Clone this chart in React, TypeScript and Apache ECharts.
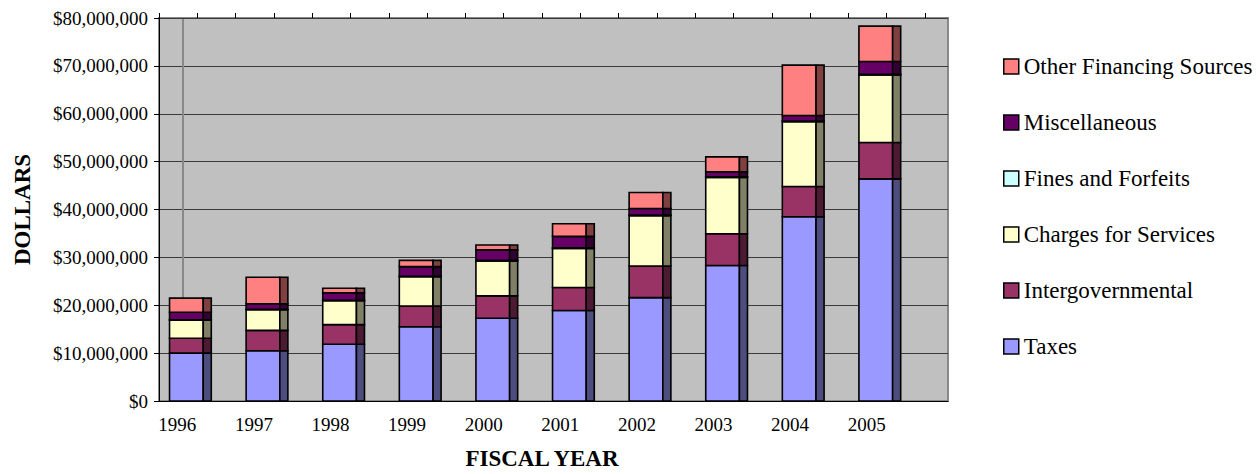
import React, { useEffect, useRef } from "react";
import * as echarts from "echarts";

const years = ["1996", "1997", "1998", "1999", "2000", "2001", "2002", "2003", "2004", "2005"];
const taxes = [10.0, 10.5, 11.85, 15.5, 17.3, 18.9, 21.6, 28.3, 38.5, 46.4];
const intergovernmental = [3.1, 4.25, 4.1, 4.35, 4.65, 4.8, 6.6, 6.65, 6.3, 7.6];
const chargesForServices = [3.8, 4.3, 5.0, 6.1, 7.3, 8.15, 10.5, 11.75, 13.55, 14.1];
const finesAndForfeits = [0.08, 0.1, 0.1, 0.12, 0.12, 0.13, 0.15, 0.15, 0.15, 0.15];
const miscellaneous = [1.55, 1.15, 1.55, 2.0, 2.2, 2.4, 1.35, 1.05, 1.15, 2.65];
const otherFinancing = [2.95, 5.55, 0.95, 1.3, 1.0, 2.65, 3.35, 3.1, 10.5, 7.4];
const yTicks = [0, 10, 20, 30, 40, 50, 60, 70, 80];

const seriesDefs = [
  { name: "Taxes", values: taxes, color: "#9999ff", side: "#4d4d80" },
  { name: "Intergovernmental", values: intergovernmental, color: "#993366", side: "#4d1a33" },
  { name: "Charges for Services", values: chargesForServices, color: "#ffffcc", side: "#808066" },
  { name: "Fines and Forfeits", values: finesAndForfeits, color: "#ccffff", side: "#668080" },
  { name: "Miscellaneous", values: miscellaneous, color: "#660066", side: "#330033" },
  { name: "Other Financing Sources", values: otherFinancing, color: "#ff8080", side: "#804040" },
];

const FONT = "Liberation Serif";
const M = 1000000;

function fmtDollar(v: number) {
  return "$" + Math.round(v).toLocaleString("en-US");
}

export default function App() {
  const ref = useRef<HTMLDivElement>(null);
  useEffect(() => {
    if (!ref.current) return;
    const chart = echarts.init(ref.current, null, { renderer: "svg" });
    const cum = years.map(() => 0);
    const series: any[] = seriesDefs.map((s) => {
      const data = s.values.map((v, i) => {
        const lo = cum[i];
        const hi = lo + v * M;
        cum[i] = hi;
        return [i, lo, hi];
      });
      return {
        type: "custom",
        name: s.name,
        xAxisIndex: 1,
        yAxisIndex: 1,
        itemStyle: { color: s.color, borderColor: "#000", borderWidth: 1.5 },
        encode: { x: 0, y: [1, 2] },
        data,
        renderItem: (params: any, api: any) => {
          const cat = api.value(0);
          const lo = api.value(1);
          const hi = api.value(2);
          const p0 = api.coord([cat, lo]);
          const p1 = api.coord([cat, hi]);
          const w = api.size([1, 0])[0];
          const front = w * 0.44;
          const side = w * 0.105;
          const x0 = p0[0] - w * 0.09 - (front + side) / 2;
          const h = p0[1] - p1[1];
          return {
            type: "group",
            children: [
              {
                type: "rect",
                shape: { x: x0, y: p1[1], width: front, height: h },
                style: { fill: s.color, stroke: "#000", lineWidth: 1.6 },
              },
              {
                type: "rect",
                shape: { x: x0 + front, y: p1[1], width: side, height: h },
                style: { fill: s.side, stroke: "#000", lineWidth: 1.6 },
              },
            ],
          };
        },
      };
    });

    const option: any = {
      animation: false,
      textStyle: { fontFamily: FONT },
      grid: [
        {
          left: 159, top: 18, width: 789, height: 383, outerBoundsMode: "none",
          show: true, backgroundColor: "#c0c0c0", borderColor: "#888888", borderWidth: 2,
        },
        { left: 159, top: 18, width: 766, height: 383, show: false, outerBoundsMode: "none" },
      ],
      xAxis: [
        {
          gridIndex: 0, type: "value", min: 0, max: 1,
          axisLine: { show: true, lineStyle: { color: "#000", width: 1 } },
          axisTick: { show: false }, axisLabel: { show: false }, splitLine: { show: false },
        },
        {
          gridIndex: 1, type: "category", data: years,
          axisLine: { show: false }, axisTick: { show: false },
          axisLabel: {
            fontFamily: FONT, fontSize: 19, color: "#000", margin: 14,
            padding: [0, 40, 0, 0], interval: 0,
          },
          name: "FISCAL YEAR", nameLocation: "middle", nameGap: 46,
          nameTextStyle: { fontFamily: FONT, fontSize: 23, fontWeight: "bold", color: "#000" },
        },
        {
          gridIndex: 1, type: "category", data: years.flatMap((y) => [y + "a", y + "b"]),
          axisLine: { show: false },
          axisTick: { show: true, interval: 0, length: 5, lineStyle: { color: "#000" } },
          axisLabel: { show: false },
        },
      ],
      yAxis: [
        {
          gridIndex: 0, type: "value", min: 0, max: 80 * M, interval: 10 * M,
          axisLine: { show: true, lineStyle: { color: "#000", width: 1 } },
          axisTick: { show: true, length: 5, lineStyle: { color: "#000" } },
          axisLabel: {
            fontFamily: FONT, fontSize: 19, color: "#000", margin: 11,
            formatter: (v: number) => (yTicks.includes(v / M) ? fmtDollar(v) : ""),
          },
          splitLine: { show: true, lineStyle: { color: "#3a3a3a", width: 1 } },
          name: "DOLLARS", nameLocation: "middle", nameGap: 125, nameRotate: 90,
          nameTextStyle: { fontFamily: FONT, fontSize: 23, fontWeight: "bold", color: "#000" },
        },
        {
          gridIndex: 1, type: "value", min: 0, max: 80 * M, show: false,
          splitLine: { show: false },
        },
      ],
      legend: {
        orient: "vertical",
        left: 998,
        top: 50,
        itemWidth: 15,
        itemHeight: 15,
        itemGap: 33,
        icon: "rect",
        itemStyle: { borderColor: "#000", borderWidth: 1.5 },
        textStyle: { fontFamily: FONT, fontSize: 23, color: "#000", lineHeight: 22 },
        data: seriesDefs.map((s) => s.name).reverse(),
      },
      graphic: [
        {
          type: "line",
          shape: { x1: 183, y1: 19, x2: 183, y2: 400 },
          style: { stroke: "#888888", lineWidth: 2 },
          z: 1,
        },
      ],
      series,
    };
    chart.setOption(option);
    return () => chart.dispose();
  }, []);
  return (
    <div
      ref={ref}
      style={{ position: "fixed", left: 0, top: 0, width: 1260, height: 474, background: "#fff" }}
    />
  );
}
